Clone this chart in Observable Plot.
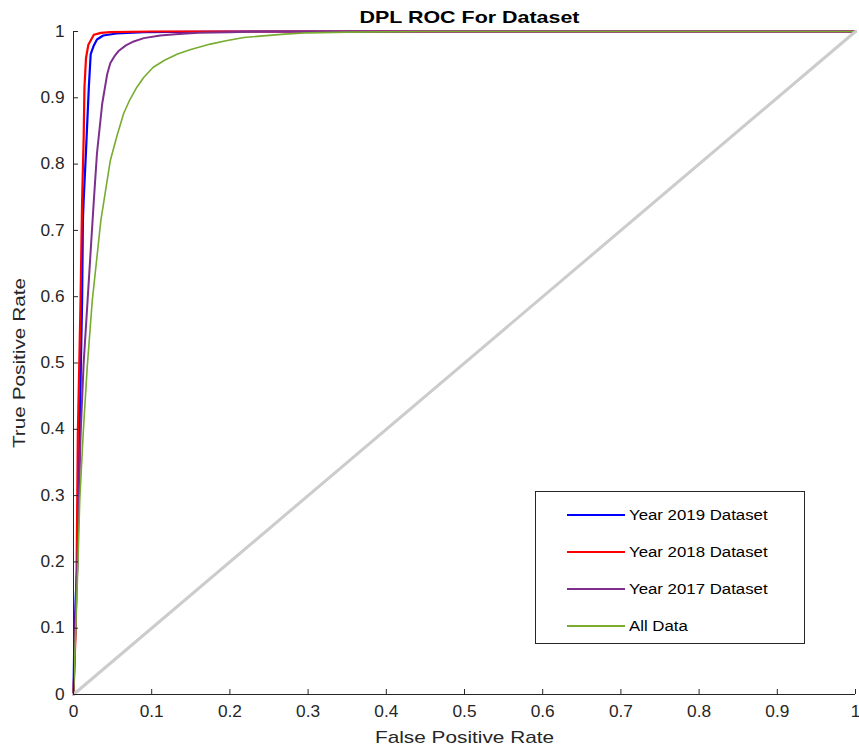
<!DOCTYPE html>
<html>
<head>
<meta charset="utf-8">
<script src="https://cdn.jsdelivr.net/npm/d3@7"></script>
<script src="https://cdn.jsdelivr.net/npm/@observablehq/plot@0.6"></script>
<style>
  body { margin: 0; background: #fff; font-family: "Liberation Sans", Arial, sans-serif; }
  #wrap { position: relative; width: 859px; height: 749px; }
  #legend { position: absolute; left: 535px; top: 491px; width: 270px; height: 153px; box-sizing: border-box; border: 1px solid #262626; background: #fff; }
  .row { position: absolute; left: 0; height: 20px; display: flex; align-items: center; font-size: 14px; color: #000; }
  .row svg { margin-left: 31px; margin-right: 4px; }
  .row span { display: inline-block; transform: scaleX(1.2); transform-origin: left center; white-space: nowrap; }
</style>
</head>
<body>
<div id="wrap"></div>
<script>
const seriesNames = ["Year 2019 Dataset", "Year 2018 Dataset", "Year 2017 Dataset", "All Data"];
const seriesColors = ["#0000FF", "#FF0000", "#7E2F8E", "#77AC30"];

const fpr2019 = [0, 0.001, 0.003, 0.0047, 0.0077, 0.011, 0.012, 0.013, 0.016, 0.0196, 0.022, 0.026, 0.030, 0.038, 0.055, 0.09, 0.2, 1];
const tpr2019 = [0, 0.08, 0.15, 0.19, 0.39, 0.594, 0.715, 0.745, 0.82, 0.916, 0.966, 0.979, 0.988, 0.994, 0.997, 0.999, 1, 1];

const fpr2018 = [0, 0.0026, 0.004, 0.0055, 0.009, 0.011, 0.013, 0.014, 0.016, 0.019, 0.026, 0.035, 0.047, 0.1, 1];
const tpr2018 = [0, 0.092, 0.19, 0.39, 0.594, 0.745, 0.84, 0.916, 0.96, 0.98, 0.995, 0.998, 0.999, 1, 1];

const fpr2017 = [0, 0.002, 0.0047, 0.009, 0.013, 0.018, 0.022, 0.026, 0.030, 0.0367, 0.043, 0.047, 0.052, 0.058, 0.067, 0.077, 0.09, 0.111, 0.13, 0.16, 0.2, 0.24, 1];
const tpr2017 = [0, 0.08, 0.19, 0.39, 0.5, 0.594, 0.67, 0.745, 0.816, 0.891, 0.935, 0.952, 0.962, 0.971, 0.979, 0.985, 0.99, 0.994, 0.996, 0.998, 0.999, 1, 1];

const fprAll = [0, 0.0026, 0.0055, 0.008, 0.0124, 0.0175, 0.024, 0.035, 0.041, 0.047, 0.055, 0.064, 0.072, 0.081, 0.09, 0.102, 0.117, 0.133, 0.15, 0.175, 0.195, 0.218, 0.27, 0.3, 0.35, 0.45, 1];
const tprAll = [0, 0.092, 0.19, 0.293, 0.394, 0.493, 0.594, 0.715, 0.76, 0.805, 0.84, 0.876, 0.897, 0.916, 0.931, 0.946, 0.957, 0.966, 0.973, 0.981, 0.986, 0.991, 0.996, 0.998, 0.999, 1, 1];

const chanceFpr = [0, 1];
const chanceTpr = [0, 1];

const xTicks = [0, 0.1, 0.2, 0.3, 0.4, 0.5, 0.6, 0.7, 0.8, 0.9, 1];
const yTicks = [0, 0.1, 0.2, 0.3, 0.4, 0.5, 0.6, 0.7, 0.8, 0.9, 1];

const titleText = "DPL ROC For Dataset";
const xLabel = "False Positive Rate";
const yLabel = "True Positive Rate";

const fprs = [fpr2019, fpr2018, fpr2017, fprAll];
const tprs = [tpr2019, tpr2018, tpr2017, tprAll];
const widths = [2.2, 2.2, 2, 1.6];

const rows = [];
fprs.forEach((f, i) => f.forEach((x, j) => rows.push({series: seriesNames[i], fpr: x, tpr: tprs[i][j]})));
const chance = chanceFpr.map((x, j) => ({fpr: x, tpr: chanceTpr[j]}));
const fmt = d => d === 0 || d === 1 ? String(d) : d3.format(".1f")(d);

const chart = Plot.plot({
  width: 859,
  height: 749,
  marginLeft: 73,
  marginRight: 4,
  marginTop: 31,
  marginBottom: 55,
  style: { fontFamily: "Liberation Sans, Arial, sans-serif", fontSize: "16px", color: "#262626", background: "#fff" },
  x: { domain: [0, 1] },
  y: { domain: [0, 1] },
  marks: [
    ...seriesNames.map((s, i) => Plot.line(rows.filter(r => r.series === s), {x: "fpr", y: "tpr", stroke: seriesColors[i], strokeWidth: widths[i]})),
    Plot.line(chance, {x: "fpr", y: "tpr", stroke: "#cccccc", strokeWidth: 3}),
    Plot.ruleX([0], {stroke: "#262626", strokeWidth: 1}),
    Plot.ruleY([0], {stroke: "#262626", strokeWidth: 1}),
    Plot.axisX(xTicks, {tickSize: -5, tickPadding: 16, tickFormat: fmt, fontSize: 16, label: xLabel, labelAnchor: "center", labelOffset: 48, labelArrow: "none"}),
    Plot.axisY(yTicks, {tickSize: -5, tickPadding: 14, tickFormat: fmt, fontSize: 16, label: yLabel, labelAnchor: "center", labelOffset: 60, labelArrow: "none"}),
    Plot.text([titleText], {frameAnchor: "top", dy: -20, dx: 5, fontWeight: "bold", fontSize: 16.5, fill: "#000"})
  ]
});

function stretch(sel, s) {
  d3.select(chart).selectAll(sel).each(function() {
    const t = this.getAttribute("transform") || "";
    this.setAttribute("transform", t + ` scale(${s},1)`);
  });
}
stretch("g[aria-label='x-axis tick label'] text", 1.08);
stretch("g[aria-label='y-axis tick label'] text", 1.08);
stretch("g[aria-label='x-axis label'] text", 1.3);
stretch("g[aria-label='y-axis label'] text", 1.3);
stretch("g[aria-label='text'] text", 1.3);

const wrap = document.getElementById("wrap");
wrap.appendChild(chart);

const legend = document.createElement("div");
legend.id = "legend";
seriesNames.forEach((s, i) => {
  const row = document.createElement("div");
  row.className = "row";
  row.style.top = (13 + i * 37) + "px";
  row.innerHTML = `<svg width="58" height="4"><line x1="0" y1="2" x2="58" y2="2" stroke="${seriesColors[i]}" stroke-width="2"/></svg><span>${s}</span>`;
  legend.appendChild(row);
});
wrap.appendChild(legend);
</script>
</body>
</html>
